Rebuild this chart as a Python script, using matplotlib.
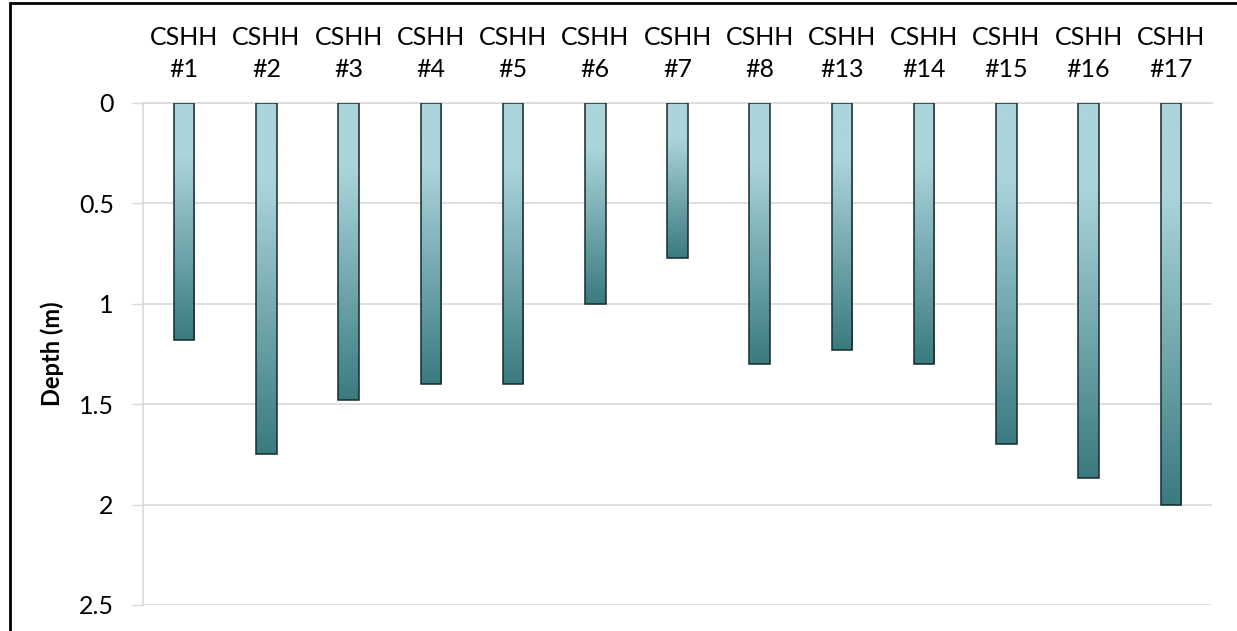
import numpy as np
import matplotlib
matplotlib.use("Agg")
import matplotlib.pyplot as plt
from matplotlib.colors import LinearSegmentedColormap
from matplotlib.patches import Rectangle

# borehole names and depth reached (m)
holes = ["#1", "#2", "#3", "#4", "#5", "#6", "#7", "#8", "#13", "#14", "#15", "#16", "#17"]
depths = [1.18, 1.75, 1.48, 1.40, 1.40, 1.00, 0.77, 1.30, 1.23, 1.30, 1.70, 1.87, 2.00]
y_ticks = [0, 0.5, 1, 1.5, 2, 2.5]

LIGHT = "#abd5db"
DARK = "#3a7b80"
GRID = "#d9d9d9"

plt.rcParams["font.family"] = ["Lato", "DejaVu Sans"]

fig = plt.figure(figsize=(12.37, 6.31), dpi=100)
ax = fig.add_axes([143 / 1237, 1 - 605 / 631, (1212 - 143) / 1237, (605 - 103) / 631])

x = np.arange(len(holes))
bars = ax.bar(x, depths, width=0.25, color="none", edgecolor="#162b2d",
              linewidth=1.1, zorder=3)

# vertical gradient inside each bar: light at the surface, dark at the bottom
cmap = LinearSegmentedColormap.from_list("teal", [(0, LIGHT), (0.22, LIGHT), (1, DARK)])
grad = np.linspace(0, 1, 256).reshape(-1, 1)
for b in bars:
    x0, w, h = b.get_x(), b.get_width(), b.get_height()
    ax.imshow(grad, cmap=cmap, aspect="auto", extent=(x0, x0 + w, h, 0),
              interpolation="bilinear", zorder=2)

ax.set_xlim(-0.5, len(holes) - 0.5)
ax.set_ylim(2.5, 0)

ax.xaxis.tick_top()
ax.set_xticks(x)
ax.set_xticklabels([f"CSHH\n{h}" for h in holes], fontsize=18, linespacing=1.45)
ax.tick_params(axis="x", length=0, pad=16)

ax.set_yticks(y_ticks)
ax.set_yticklabels([f"{v:g}" for v in y_ticks], fontsize=18)
ax.tick_params(axis="y", length=8, width=1, color=GRID, pad=13)
ax.yaxis.grid(True, color=GRID, linewidth=1.2, zorder=0)
ax.set_axisbelow(True)

ax.set_ylabel("Depth (m)", fontsize=17, fontweight="bold")
ax.yaxis.set_label_coords(-0.074, 0.5)

for side in ["right", "bottom"]:
    ax.spines[side].set_visible(False)
for side in ["left", "top"]:
    ax.spines[side].set_color(GRID)
    ax.spines[side].set_linewidth(1.2)

# outer frame around the figure
fig.patches.append(Rectangle((10 / 1237, -0.2), 1.2, 1.2 - 3 / 631,
                             transform=fig.transFigure, fill=False,
                             edgecolor="black", linewidth=2, figure=fig))

fig.savefig("out.png", dpi=100)
